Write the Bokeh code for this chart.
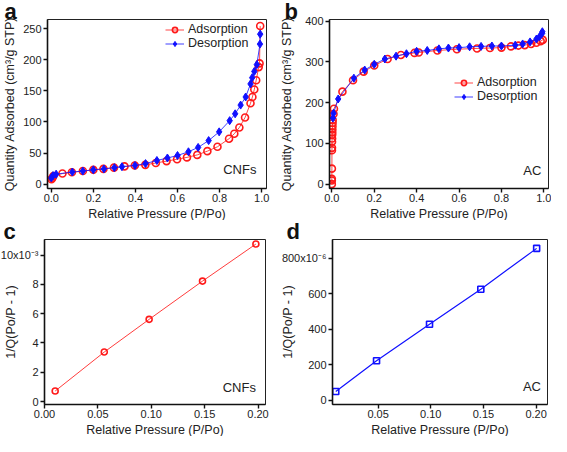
from bokeh.plotting import figure
from bokeh.layouts import column, row
from bokeh.models import (Range1d, FixedTicker, CustomJSTickFormatter, Label,
                          Legend, LegendItem, Title)
from bokeh.embed import file_html
from bokeh.resources import INLINE

# ---------------- data ----------------
cnf_ads_x = [0.001, 0.005, 0.01, 0.053, 0.098, 0.15, 0.2, 0.248, 0.298, 0.348, 0.397,
             0.447, 0.497, 0.548, 0.598, 0.645, 0.694, 0.742, 0.79, 0.845, 0.87,
             0.894, 0.921, 0.947, 0.956, 0.965, 0.974, 0.986, 0.99, 0.993]
cnf_ads_y = [8, 10, 13, 17, 19, 21, 23, 24.5, 26.5, 28.5, 30, 31, 34, 37, 40, 43, 47,
             53, 60, 73, 81, 91, 107, 130, 140, 152, 167, 188, 194, 254]
cnf_des_x = [0.993, 0.992, 0.977, 0.965, 0.955, 0.947, 0.924, 0.9, 0.874, 0.848, 0.798,
             0.748, 0.698, 0.652, 0.6, 0.552, 0.502, 0.448, 0.398, 0.336, 0.3, 0.25,
             0.2, 0.15, 0.1, 0.023, 0.008, 0.0]
cnf_des_y = [241, 225, 192, 181, 171, 161, 140, 127, 113, 102, 84, 70, 59, 52, 46, 42,
             38, 33, 30, 28, 26.5, 24.5, 23, 21, 19.5, 16, 13.7, 10]

ac_ads_x = [0.00001, 0.00003, 0.0001, 0.0003, 0.0006, 0.0008, 0.001, 0.0013, 0.0016,
            0.002, 0.0025, 0.003, 0.0035, 0.004, 0.008, 0.01, 0.05, 0.1, 0.15, 0.2,
            0.263, 0.326, 0.39, 0.41, 0.498, 0.59, 0.685, 0.746, 0.8, 0.845, 0.88,
            0.91, 0.94, 0.965, 0.985, 0.995]
ac_ads_y = [0, 9, 13, 38, 83, 89, 104, 112, 121, 127, 134, 142, 150, 157, 172, 185,
            227, 255, 276, 291, 307, 317, 322, 323, 328, 331, 333, 334, 335, 338, 340,
            341, 344, 347, 351, 354]
ac_des_x = [0.993, 0.992, 0.98, 0.965, 0.935, 0.9, 0.865, 0.8, 0.755, 0.704, 0.65, 0.6,
            0.55, 0.505, 0.45, 0.4, 0.352, 0.303, 0.25, 0.2, 0.155, 0.104, 0.03, 0.008,
            0.005]
ac_des_y = [374, 370, 362, 356, 349, 344, 341, 339, 339, 338, 337, 335, 334, 332, 328,
            326, 320, 314, 307, 294, 280, 260, 209, 174, 162]

bet_cnf_x = [0.01, 0.056, 0.098, 0.148, 0.198]
bet_cnf_y_e3 = [0.72, 3.38, 5.61, 8.22, 10.75]   # x10^-3

bet_ac_x = [0.0098, 0.0485, 0.0988, 0.1475, 0.2005]
bet_ac_y_e6 = [50, 224, 429, 627, 857]            # x10^-6

FONT = "Liberation Sans"
RED = "#ff1a1a"
BLUE = "#1010ff"
XLABEL = "Relative Pressure (P/Po)"


def style(p, xticks, yticks, xfmt, yfmt, ylab_standoff):
    p.grid.visible = False
    p.outline_line_color = "#222222"
    p.outline_line_width = 1
    for ax in (p.xaxis[0], p.yaxis[0]):
        ax.axis_line_width = 1.6
        ax.axis_line_color = "#111111"
        ax.major_tick_line_width = 1.4
        ax.major_tick_line_color = "#111111"
        ax.major_tick_out = 4
        ax.major_tick_in = 0
        ax.minor_tick_out = 0
        ax.minor_tick_in = 0
        ax.major_label_text_font = FONT
        ax.major_label_text_font_size = "11px"
        ax.major_label_text_color = "#222222"
        ax.axis_label_text_font = FONT
        ax.axis_label_text_font_size = "12.5px"
        ax.axis_label_text_font_style = "normal"
        ax.axis_label_text_color = "#222222"
    p.xaxis[0].major_label_standoff = 1
    p.yaxis[0].major_label_standoff = 2
    p.yaxis[0].axis_label_standoff = ylab_standoff
    p.xaxis[0].ticker = FixedTicker(ticks=xticks)
    p.yaxis[0].ticker = FixedTicker(ticks=yticks)
    p.xaxis[0].formatter = CustomJSTickFormatter(code=xfmt)
    p.yaxis[0].formatter = CustomJSTickFormatter(code=yfmt)
    p.add_layout(Title(text=XLABEL, align="center", text_font=FONT,
                       text_font_size="12.5px", text_font_style="normal",
                       text_color="#222222", standoff=0), "below")


def mkfig(w, h, l, r, t, b, xr, yr, letter, loff):
    p = figure(width=w, height=h, output_backend="svg", toolbar_location=None,
               x_range=Range1d(*xr), y_range=Range1d(*yr),
               min_border_left=l, min_border_right=r, min_border_top=t,
               min_border_bottom=b, title=letter)
    p.background_fill_color = "white"
    p.border_fill_color = "white"
    p.title.text_font = FONT
    p.title.text_font_size = "22px"
    p.title.text_font_style = "bold"
    p.title.text_color = "#111111"
    p.title.align = "left"
    p.title.offset = loff
    p.title.standoff = -8
    return p


def tag(p, txt, x, y):
    p.add_layout(Label(x=x, y=y, text=txt, text_align="right",
                       text_font=FONT, text_font_size="13px", text_color="#222222"))


def legend(p, items, loc):
    lg = Legend(items=items, location=loc, padding=0, spacing=0, margin=0,
                border_line_color=None, background_fill_alpha=0,
                label_text_font=FONT, label_text_font_size="12.5px",
                label_text_color="#222222", glyph_width=19, glyph_height=13,
                label_height=13, label_standoff=4)
    p.add_layout(lg)


# ---------------- panel a ----------------
pa = mkfig(274, 220, 43, 8, 12, 28, (-0.018, 1.023), (-7, 264.5), "a", -43)
style(pa, [0, 0.2, 0.4, 0.6, 0.8, 1.0], [0, 50, 100, 150, 200, 250],
      "return tick.toFixed(1)", "return tick.toFixed(0)", 3)
pa.yaxis[0].axis_label = "Quantity Adsorbed (cm³/g STP)"
la1 = pa.line(cnf_ads_x, cnf_ads_y, line_color=RED, line_width=1, line_alpha=0.8)
ma1 = pa.scatter(cnf_ads_x, cnf_ads_y, marker="circle", size=7, line_color=RED,
                 line_width=1.6, fill_color=None)
la2 = pa.line(cnf_des_x, cnf_des_y, line_color=BLUE, line_width=1, line_alpha=0.8)
ma2 = pa.scatter(cnf_des_x, cnf_des_y, marker="diamond", size=8, line_color=BLUE,
                 fill_color=BLUE)
legend(pa, [LegendItem(label="Adsorption", renderers=[la1, ma1]),
            LegendItem(label="Desorption", renderers=[la2, ma2])], (118, 138))
tag(pa, "CNFs", 0.975, 11)

# ---------------- panel b ----------------
pb = mkfig(277, 220, 55, 3, 13, 28, (-0.011, 1.022), (-10.7, 404), "b", -45)
style(pb, [0, 0.2, 0.4, 0.6, 0.8, 1.0], [0, 100, 200, 300, 400],
      "return tick.toFixed(1)", "return tick.toFixed(0)", 8)
pb.yaxis[0].axis_label = "Quantity Adsorbed (cm³/g STP)"
lb1 = pb.line(ac_ads_x, ac_ads_y, line_color=RED, line_width=1, line_alpha=0.8)
mb1 = pb.scatter(ac_ads_x, ac_ads_y, marker="circle", size=7, line_color=RED,
                 line_width=1.6, fill_color=None)
lb2 = pb.line(ac_des_x, ac_des_y, line_color=BLUE, line_width=1, line_alpha=0.8)
mb2 = pb.scatter(ac_des_x, ac_des_y, marker="diamond", size=8, line_color=BLUE,
                 fill_color=BLUE)
legend(pb, [LegendItem(label="Adsorption", renderers=[lb1, mb1]),
            LegendItem(label="Desorption", renderers=[lb2, mb2])], (125, 85))
tag(pb, "AC", 0.988, 15)

# ---------------- panel c ----------------
pc = mkfig(274, 216, 41, 9, 8, 28, (0.0, 0.207), (-0.2, 11.06), "c", -41)
style(pc, [0, 0.05, 0.10, 0.15, 0.20], [0, 2, 4, 6, 8, 10],
      "return tick.toFixed(2)",
      "return tick == 10 ? '10x10\u207b\u00b3' : tick.toFixed(0)", -20)
pc.yaxis[0].axis_label = "1/Q(Po/P - 1)"
pc.line(bet_cnf_x, bet_cnf_y_e3, line_color=RED, line_width=1, line_alpha=0.85)
pc.scatter(bet_cnf_x, bet_cnf_y_e3, marker="circle", size=6, line_color=RED,
           line_width=1.6, fill_color=None)
tag(pc, "CNFs", 0.198, 0.47)

# ---------------- panel d ----------------
pd_ = mkfig(277, 216, 58, 4, 10, 28, (0.0067, 0.2108), (-23, 907), "d", -46)
style(pd_, [0.05, 0.10, 0.15, 0.20], [0, 200, 400, 600, 800],
      "return tick.toFixed(2)",
      "return tick == 800 ? '800x10\u207b\u2076' : tick.toFixed(0)", -16)
pd_.yaxis[0].axis_label = "1/Q(Po/P - 1)"
pd_.line(bet_ac_x, bet_ac_y_e6, line_color=BLUE, line_width=1.2)
pd_.scatter(bet_ac_x, bet_ac_y_e6, marker="square", size=6, line_color=BLUE,
            line_width=1.6, fill_color=None)
tag(pd_, "AC", 0.2046, 39)

layout = column(row(pa, pb), row(pc, pd_))
open("out.html", "w").write(file_html(layout, INLINE))
